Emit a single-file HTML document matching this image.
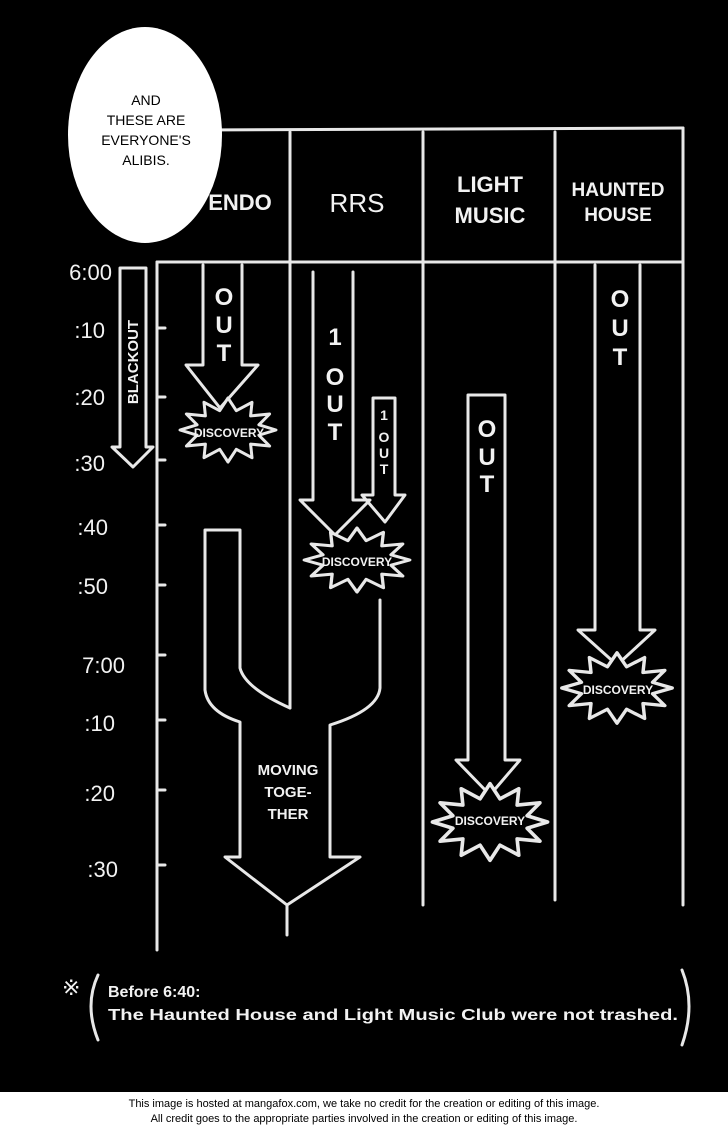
<!DOCTYPE html>
<html><head><meta charset="utf-8"><style>
html,body{margin:0;padding:0;background:#000;}
svg{display:block}
.c{fill:none;stroke:#e8e8e8;stroke-width:3;stroke-linejoin:round;stroke-linecap:round}
.t{fill:#f2f2f2;font-family:"Liberation Sans",sans-serif;font-weight:bold}
</style></head><body>
<svg width="728" height="1128" viewBox="0 0 728 1128" xmlns="http://www.w3.org/2000/svg">
<defs>
<polygon id="st" points="48,0 30.9,5.2 41.6,16 22.6,14.1 24,27.7 8.3,19.3 0,32 -8.3,19.3 -24,27.7 -22.6,14.1 -41.6,16 -30.9,5.2 -48,0 -30.9,-5.2 -41.6,-16 -22.6,-14.1 -24,-27.7 -8.3,-19.3 0,-32 8.3,-19.3 24,-27.7 22.6,-14.1 41.6,-16 30.9,-5.2"/>
</defs>
<rect width="728" height="1128" fill="#000"/>
<g class="c">
<path d="M200 130 L683 128 M157 262 L683 262"/>
<path d="M157 262 L157 950 M290 132 L290 708 M423 132 L423 905 M555 132 L555 900 M683 128 L683 905"/>
<path d="M157 328 L165 328 M157 397 L165 397 M157 460 L165 460 M157 525 L165 525 M157 585 L165 585 M157 655 L165 655 M157 720 L165 720 M157 790 L165 790 M157 865 L165 865"/>
<path d="M120 268 L146 268 L146 447 L153 447 L133 467 L112 447 L120 447 Z"/>
<path d="M203 265 L203 365 L186 365 L220 408 L258 365 L242 365 L242 265"/>
<path d="M313 272 L313 500 L300 500 L335 535 L370 500 L353 500 L353 272"/>
<path d="M373 398 L395 398 L395 495 L405 495 L385 522 L362 495 L373 495 Z"/>
<path d="M468 395 L505 395 L505 760 L520 760 L490 795 L456 760 L468 760 Z"/>
<path d="M595 265 L595 630 L578 630 L617 665 L655 630 L640 630 L640 265"/>
<path d="M205 530 L240 530 L240 668 Q245 688 290 708 M205 530 L205 690 Q208 712 240 722 L240 857 L225 857 L287 905 L360 857 L330 857 L330 725 Q378 710 380 688 L380 600 M287 905 L287 935"/>
</g>
<g class="c" style="fill:#000">
<use href="#st" transform="translate(228,430)"/>
<use href="#st" transform="translate(357,560) scale(1.1,1)"/>
<use href="#st" transform="translate(490,822) scale(1.2,1.2)"/>
<use href="#st" transform="translate(617,688) scale(1.15,1.1)"/>
</g>
<g class="t" font-size="22" text-anchor="middle">
<text x="240" y="210">ENDO</text>
<text x="357" y="212" font-size="26" font-weight="normal">RRS</text>
<text x="490" y="192">LIGHT</text>
<text x="490" y="223">MUSIC</text>
<text x="618" y="196" font-size="19">HAUNTED</text>
<text x="618" y="221" font-size="19">HOUSE</text>
</g>
<g class="t" font-size="22" text-anchor="end" style="font-weight:normal">
<text x="112" y="280">6:00</text><text x="105" y="338">:10</text><text x="105" y="405">:20</text><text x="105" y="471">:30</text><text x="108" y="535">:40</text><text x="108" y="594">:50</text><text x="125" y="673">7:00</text><text x="115" y="731">:10</text><text x="115" y="801">:20</text><text x="118" y="877">:30</text>
</g>
<g class="t" font-size="24" text-anchor="middle">
<text x="224" y="305">O</text><text x="224" y="333">U</text><text x="224" y="361">T</text>
<text x="335" y="345">1</text><text x="335" y="385">O</text><text x="335" y="412">U</text><text x="335" y="440">T</text>
<text x="487" y="437">O</text><text x="487" y="465">U</text><text x="487" y="492">T</text>
<text x="620" y="307">O</text><text x="620" y="336">U</text><text x="620" y="365">T</text>
<text x="384" y="420" font-size="14">1</text><text x="384" y="442" font-size="14">O</text><text x="384" y="458" font-size="14">U</text><text x="384" y="474" font-size="14">T</text>
<text x="138" y="362" font-size="15" transform="rotate(-90 138 362)">BLACKOUT</text>
</g>
<g class="t" font-size="12" text-anchor="middle">
<text x="229" y="437">DISCOVERY</text>
<text x="357" y="566">DISCOVERY</text>
<text x="490" y="825">DISCOVERY</text>
<text x="618" y="694">DISCOVERY</text>
<text x="288" y="775" font-size="15">MOVING</text>
<text x="288" y="797" font-size="15">TOGE-</text>
<text x="288" y="819" font-size="15">THER</text>
</g>
<g class="t" font-size="16">
<text x="62" y="995" font-size="22" style="font-weight:normal">※</text>
<text x="108" y="997">Before 6:40:</text>
<text x="108" y="1020" textLength="570" lengthAdjust="spacingAndGlyphs">The Haunted House and Light Music Club were not trashed.</text>
</g>
<path class="c" d="M98 975 Q84 1005 98 1040 M682 970 Q696 1005 682 1045"/>
<ellipse cx="145" cy="135" rx="77" ry="108" fill="#fff"/>
<g font-family="Liberation Sans,sans-serif" font-size="14" fill="#000" text-anchor="middle">
<text x="146" y="105">AND</text><text x="146" y="125">THESE ARE</text><text x="146" y="145">EVERYONE'S</text><text x="146" y="165">ALIBIS.</text>
</g>
<rect x="0" y="1092" width="728" height="36" fill="#fff"/>
<g font-family="Liberation Sans,sans-serif" font-size="11" fill="#000" text-anchor="middle">
<text x="364" y="1107">This image is hosted at mangafox.com, we take no credit for the creation or editing of this image.</text>
<text x="364" y="1122">All credit goes to the appropriate parties involved in the creation or editing of this image.</text>
</g>
</svg>
</body></html>
